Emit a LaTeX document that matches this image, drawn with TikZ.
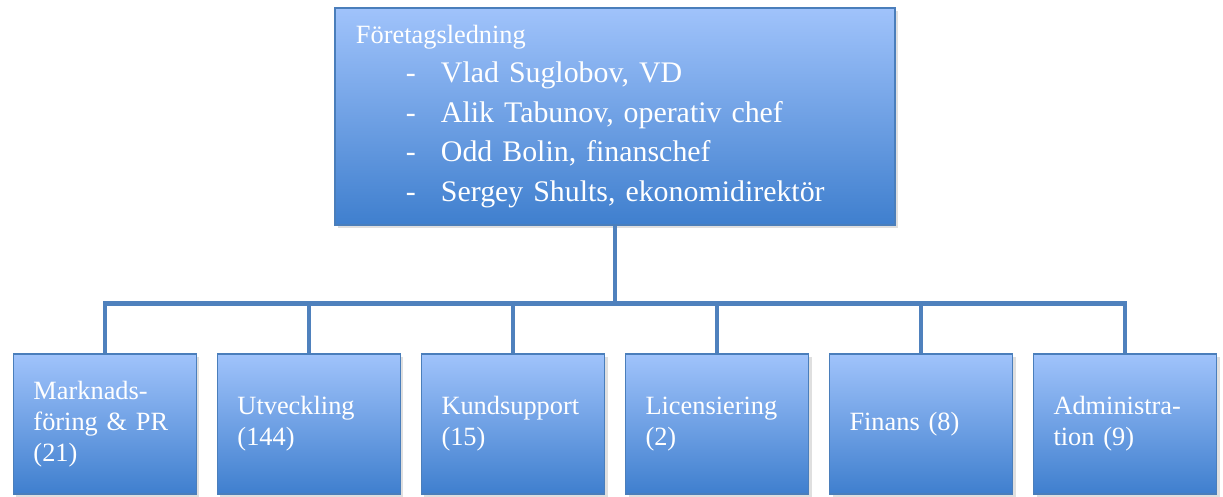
\documentclass[tikz,border=0pt]{standalone}
\usepackage{fontspec}
\setmainfont{Liberation Serif}
\usetikzlibrary{trees,shadows,positioning}
\definecolor{boxtop}{HTML}{A0C3FB}
\definecolor{boxbottom}{HTML}{3F7FCE}
\definecolor{boxline}{HTML}{4A7EBB}
\definecolor{linkblue}{HTML}{4F81BD}

\begin{document}
\begin{tikzpicture}[level distance=6.15cm, sibling distance=4.08cm,
      every node/.append style={text=white},
      orgbox/.style={draw=boxline, line width=0.6pt, top color=boxtop, bottom color=boxbottom,
        drop shadow={opacity=0.25, shadow xshift=0.6mm, shadow yshift=-0.6mm}, align=left},
      dept/.style={orgbox, minimum width=3.66cm, minimum height=2.8cm, text width=2.86cm,
        inner xsep=0.4cm, font=\fontsize{15}{17.5}\selectfont},
      edge from parent/.style={draw=linkblue, line width=2.6pt},
      edge from parent path={(\tikzparentnode.south) -- ++(0,-1.56) -| (\tikzchildnode.north)}]
    \useasboundingbox (-12.3,2.33) rectangle (12.16,-7.59);
    \node (LEAD) [orgbox, minimum width=11.2cm, minimum height=4.34cm, text width=10.36cm,
        inner xsep=0.42cm, font=\fontsize{17}{22.5}\selectfont]
      {{\fontsize{15}{18}\selectfont Företagsledning}\\
       \hspace*{1cm}\makebox[0.7cm][l]{-}Vlad Suglobov, VD\\
       \hspace*{1cm}\makebox[0.7cm][l]{-}Alik Tabunov, operativ chef\\
       \hspace*{1cm}\makebox[0.7cm][l]{-}Odd Bolin, finanschef\\
       \hspace*{1cm}\makebox[0.7cm][l]{-}Sergey Shults, ekonomidirektör}
      child {node (MARKET) [dept] {Marknads-\\föring \& PR\\(21)}}
      child {node (DEV) [dept] {Utveckling\\(144)}}
      child {node (SUPPORT) [dept] {Kundsupport\\(15)}}
      child {node (LICENSE) [dept] {Licensiering\\(2)}}
      child {node (FINANCE) [dept] {Finans (8)}}
      child {node (ADMIN) [dept] {Administra-\\tion (9)}}
      ;
\end{tikzpicture}
\end{document}
